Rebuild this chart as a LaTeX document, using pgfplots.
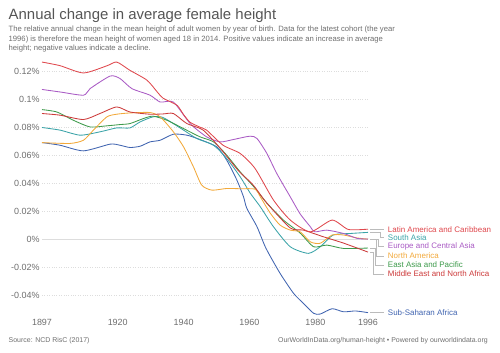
\documentclass[border=0pt]{standalone}
\usepackage{pgfplots}
\pgfplotsset{compat=1.18}
\usepackage{fontspec}
\setmainfont{Liberation Sans}
\definecolor{cLA}{HTML}{DF474C}
\definecolor{cMENA}{HTML}{CC3A3A}
\definecolor{cSA}{HTML}{3AA3A8}
\definecolor{cEU}{HTML}{A95BC4}
\definecolor{cNA}{HTML}{F2A93B}
\definecolor{cEA}{HTML}{3D9A4B}
\definecolor{cSSA}{HTML}{4064B0}
\definecolor{ctitle}{HTML}{555555}
\definecolor{csub}{HTML}{6E6E6E}
\definecolor{cgrid}{HTML}{DDDDDD}
\definecolor{cconn}{HTML}{BBBBBB}
\begin{document}
\begin{tikzpicture}
\path[use as bounding box] (0,0) rectangle (500bp,353bp);
\node[anchor=base west, inner sep=0, font=\fontsize{15}{18}\selectfont, text=ctitle] at (8.5bp,333bp) {Annual change in average female height};
\node[anchor=base west, inner sep=0, font=\fontsize{7.7}{9}\selectfont, text=csub] at (8.5bp,321.5bp) {The relative annual change in the mean height of adult women by year of birth. Data for the latest cohort (the year};
\node[anchor=base west, inner sep=0, font=\fontsize{7.7}{9}\selectfont, text=csub] at (8.5bp,311.8bp) {1996) is therefore the mean height of women aged 18 in 2014. Positive values indicate an increase in average};
\node[anchor=base west, inner sep=0, font=\fontsize{7.7}{9}\selectfont, text=csub] at (8.5bp,302.1bp) {height; negative values indicate a decline.};
\node[anchor=base west, inner sep=0, font=\fontsize{7}{8}\selectfont, text=csub] at (8.5bp,10.8bp) {Source: NCD RisC (2017)};
\node[anchor=base east, inner sep=0, font=\fontsize{7}{8}\selectfont, text=csub] at (488bp,10.8bp) {OurWorldInData.org/human-height • Powered by ourworldindata.org};
\begin{axis}[
  at={(42bp,37.7bp)}, anchor=south west,
  width=326bp, height=258bp, scale only axis,
  xmin=1897, xmax=1996, ymin=-0.0545, ymax=0.13,
  clip=false,
  axis line style={draw=none}, tick style={draw=none},
  major tick length=0pt,
  xtick={1897,1920,1940,1960,1980,1996},
  xticklabels={1897,1920,1940,1960,1980,1996},
  ytick={-0.04,-0.02,0.02,0.04,0.06,0.08,0.1,0.12},
  yticklabels={-0.04\%,-0.02\%,0.02\%,0.04\%,0.06\%,0.08\%,0.1\%,0.12\%},
  extra y ticks={0}, extra y tick labels={0\%},
  extra y tick style={ymajorgrids=true, major grid style={solid, cgrid, line width=0.8bp}},
  ymajorgrids=true,
  major grid style={dotted, cgrid, line width=0.7bp},
  /pgf/number format/assume math mode=true,
  ticklabel style={font=\fontsize{9}{10}\selectfont, text=csub},
  yticklabel style={xshift=1bp},
  every axis plot/.append style={line width=0.85bp, smooth, tension=0.4},
]
% Sub-Saharan Africa
\addplot[cSSA] coordinates {(1897,0.069)(1902.5,0.0671)(1909.6,0.0631)(1917.7,0.0679)(1920.7,0.0671)(1923.7,0.0655)(1926.8,0.0664)(1929.8,0.0695)(1932.9,0.0707)(1936.9,0.075)(1941,0.0743)(1945,0.0712)(1950.1,0.0659)(1953.1,0.0564)(1956.2,0.0421)(1958.2,0.0302)(1959.2,0.022)(1962.3,0.0088)(1965,-0.0065)(1969.3,-0.0245)(1973.4,-0.0388)(1976.4,-0.046)(1979.5,-0.0531)(1981.5,-0.0536)(1985.1,-0.0498)(1988.6,-0.052)(1992.2,-0.0514)(1996,-0.0526)};
% South Asia
\addplot[cSA] coordinates {(1897,0.0798)(1902.5,0.0779)(1908.6,0.0743)(1914.6,0.0767)(1919.7,0.0795)(1923.7,0.0795)(1926.8,0.0838)(1930.7,0.0874)(1933.8,0.0869)(1940,0.0779)(1944,0.0719)(1949.1,0.0671)(1953.1,0.0576)(1957.2,0.0445)(1960.2,0.033)(1963.3,0.0231)(1967.3,0.0088)(1972.4,-0.0055)(1977.9,-0.0102)(1981.5,-0.0055)(1985.4,0.0029)(1990.6,0.004)(1996,0.0048)};
% East Asia and Pacific
\addplot[cEA] coordinates {(1897,0.0926)(1901.5,0.0909)(1906.5,0.085)(1911.6,0.0802)(1916.7,0.081)(1920.7,0.0819)(1923.7,0.0826)(1927.8,0.0862)(1930.7,0.0879)(1934.9,0.085)(1940,0.079)(1945,0.0731)(1949.1,0.0695)(1953.1,0.06)(1957.2,0.048)(1961.1,0.038)(1965.3,0.0257)(1970.3,0.0136)(1975.4,0.0043)(1979.5,-0.0055)(1983.5,-0.0043)(1988.6,-0.0067)(1996,-0.0064)};
% North America
\addplot[cNA] coordinates {(1897,0.069)(1905.5,0.0684)(1909.6,0.0707)(1912.6,0.0779)(1916.7,0.0874)(1919.7,0.0893)(1923.7,0.0902)(1929.8,0.0905)(1932.9,0.0874)(1936.9,0.0767)(1940,0.0659)(1943,0.0516)(1945.5,0.0386)(1948.6,0.035)(1953.1,0.0362)(1957.2,0.036)(1961.7,0.0357)(1963.3,0.0302)(1966.3,0.0186)(1969.3,0.01)(1972.4,0.0064)(1975.4,0.0052)(1978.5,-0.002)(1981.5,-0.003)(1985.1,0.0029)(1988.6,0.0029)(1992.7,0.0008)(1996,0.0)};
% Europe and Central Asia
\addplot[cEU] coordinates {(1897,0.107)(1902.5,0.1052)(1909.6,0.1029)(1911.6,0.1076)(1917.7,0.1166)(1920.7,0.1148)(1924.3,0.1076)(1929.8,0.1029)(1932.9,0.098)(1936.9,0.098)(1942,0.0826)(1947,0.0731)(1951.1,0.0695)(1955.1,0.0712)(1960.2,0.0736)(1962.3,0.0719)(1965.3,0.0612)(1968.3,0.0469)(1972.4,0.0302)(1975.4,0.018)(1978.5,0.0088)(1979.8,0.0052)(1983.5,0.0064)(1988.6,0.004)(1992.7,0.0005)(1996,0.0)};
% Middle East and North Africa
\addplot[cMENA] coordinates {(1897,0.0898)(1902.5,0.0886)(1909.6,0.0855)(1914.6,0.0898)(1919.7,0.0945)(1923.7,0.0909)(1929.8,0.0893)(1933.8,0.0895)(1936.9,0.0898)(1941,0.0826)(1945.9,0.078)(1951.1,0.065)(1956.6,0.049)(1960.2,0.041)(1961.7,0.037)(1965.3,0.0257)(1972.4,0.0079)(1976.4,0.0064)(1982.4,0.0017)(1988.6,-0.0029)(1996,-0.0093)};
% Latin America and Caribbean
\addplot[cLA] coordinates {(1897,0.1266)(1902.5,0.124)(1909.6,0.1188)(1916.8,0.124)(1919.7,0.1266)(1923.7,0.1207)(1928.9,0.1136)(1932,0.1052)(1933.8,0.1007)(1938,0.0957)(1940,0.089)(1942,0.0835)(1945,0.08)(1947,0.0779)(1952,0.0671)(1957.2,0.0612)(1961.7,0.0505)(1967.3,0.0279)(1972.4,0.0136)(1978.5,0.0052)(1985.1,0.0136)(1990,0.0069)(1996,0.0071)};
% connectors and labels
\draw[cconn, line width=0.7bp] (axis cs:1996.6,0.0071) -- (axis cs:2000.9,0.0071);
\draw[cconn, line width=0.7bp] (axis cs:1996.6,0.0048) -- (axis cs:1999.7,0.0048) -- (axis cs:1999.7,0.0009) -- (axis cs:2000.9,0.0009);
\draw[cconn, line width=0.7bp] (axis cs:1996.6,0.0) -- (axis cs:1999.0,0.0) -- (axis cs:1999.0,-0.0055) -- (axis cs:2000.9,-0.0055);
\draw[cconn, line width=0.7bp] (axis cs:1996.6,-0.0003) -- (axis cs:1998.6,-0.0003) -- (axis cs:1998.6,-0.0121) -- (axis cs:2000.9,-0.0121);
\draw[cconn, line width=0.7bp] (axis cs:1996.6,-0.0064) -- (axis cs:1998.1,-0.0064) -- (axis cs:1998.1,-0.0186) -- (axis cs:2000.9,-0.0186);
\draw[cconn, line width=0.7bp] (axis cs:1996.6,-0.0093) -- (axis cs:1997.6,-0.0093) -- (axis cs:1997.6,-0.025) -- (axis cs:2000.9,-0.025);
\draw[cconn, line width=0.7bp] (axis cs:1996.6,-0.0526) -- (axis cs:2000.9,-0.0526);
\begin{scope}[every node/.style={anchor=west, inner sep=0, font=\fontsize{8}{9}\selectfont}]
\node[text=cLA] at (axis cs:2002,0.0071) {Latin America and Caribbean};
\node[text=cSA] at (axis cs:2002,0.0009) {South Asia};
\node[text=cEU] at (axis cs:2002,-0.0055) {Europe and Central Asia};
\node[text=cNA] at (axis cs:2002,-0.0121) {North America};
\node[text=cEA] at (axis cs:2002,-0.0186) {East Asia and Pacific};
\node[text=cMENA] at (axis cs:2002,-0.025) {Middle East and North Africa};
\node[text=cSSA] at (axis cs:2002,-0.0526) {Sub-Saharan Africa};
\end{scope}
\end{axis}
\end{tikzpicture}
\end{document}
